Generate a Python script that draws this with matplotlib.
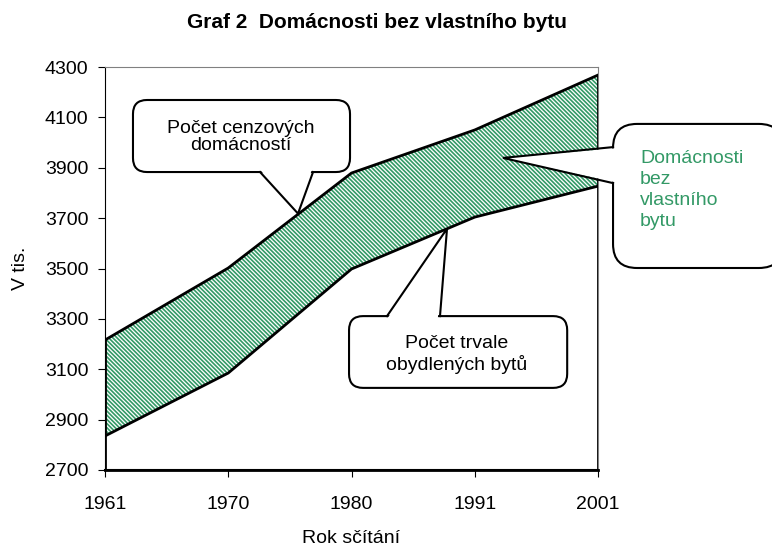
import numpy as np
import matplotlib
matplotlib.use("Agg")
import matplotlib.pyplot as plt
from matplotlib.patches import FancyBboxPatch, Polygon

plt.rcParams.update({"font.family": ["Liberation Sans", "DejaVu Sans"], "font.size": 14,
                     "hatch.linewidth": 1.2})

years = ["1961", "1970", "1980", "1991", "2001"]
households = [3216, 3502, 3879, 4050, 4268]   # Počet cenzových domácností
dwellings = [2835, 3085, 3498, 3704, 3827]    # Počet trvale obydlených bytů
yticks = list(range(2700, 4301, 200))
GREEN = "#339966"

fig = plt.figure(figsize=(7.72, 5.47), dpi=100)
ax = fig.add_axes([105/772, 77/547, 493/772, 403/547])
x = np.arange(len(years))

# lower area (white) and stacked difference (hatched)
ax.fill_between(x, 2700, dwellings, facecolor="white", edgecolor="none", zorder=1)
ax.fill_between(x, dwellings, households, facecolor="white", edgecolor=GREEN, hatch="\\\\\\\\\\\\\\\\",
                linewidth=0, zorder=1)
lw = 2.0
ax.plot(x, households, color="black", lw=lw, zorder=3)
ax.plot(x, dwellings, color="black", lw=lw, zorder=3)
ax.plot([0, 0], [2700, households[0]], color="black", lw=lw, zorder=3)
ax.plot([4, 4], [2700, households[-1]], color="black", lw=lw, zorder=3)
ax.plot([0, 4], [2700, 2700], color="black", lw=lw, zorder=3, clip_on=False)

ax.set_xlim(0, 4)
ax.set_ylim(2700, 4300)
ax.set_xticks(x)
ax.set_xticklabels(years)
ax.set_yticks(yticks)
for s in ["top", "right"]:
    ax.spines[s].set_color("#808080")
    ax.spines[s].set_linewidth(0.8)
ax.spines["left"].set_linewidth(0.8)
ax.spines["bottom"].set_linewidth(1.5)
ax.tick_params(axis="both", direction="out", length=5, width=0.8, colors="black", labelsize=14)
ax.tick_params(axis="y", pad=7)
ax.tick_params(axis="x", pad=14)
ax.set_xlabel("Rok sčítání", labelpad=12, fontsize=14)
ax.set_ylabel("V tis.", labelpad=11, fontsize=14)

fig.text(0.488, 0.958, "Graf 2  Domácnosti bez vlastního bytu", ha="center", va="center",
         fontsize=15, fontweight="bold")

# callouts (x in category units, y in thousands)
px_x = 4 / 493.0       # x units per pixel
px_y = 1600 / 403.0    # y units per pixel
aspect = px_y / px_x

def callout(x0, x1, y0, y1, base, tip, r=14):
    box = FancyBboxPatch((x0, y0), x1 - x0, y1 - y0,
                         boxstyle=f"round,pad=0,rounding_size={r*px_x}",
                         mutation_aspect=aspect, facecolor="white", edgecolor="black",
                         lw=1.5, zorder=5, clip_on=False)
    ax.add_patch(box)
    (bx0, by0), (bx1, by1) = base
    # white wedge covering the box border at its base
    cx, cy = (bx0 + bx1) / 2, (by0 + by1) / 2
    dx, dy = cx - tip[0], cy - tip[1]
    ext = (bx0 + dx * 0.08, by0 + dy * 0.08), (bx1 + dx * 0.08, by1 + dy * 0.08)
    ax.add_patch(Polygon([tip, ext[0], ext[1]], closed=True, facecolor="white",
                         edgecolor="none", zorder=6, clip_on=False))
    ax.plot([bx0, tip[0], bx1], [by0, tip[1], by1], color="black", lw=1.5, zorder=7,
            clip_on=False, solid_joinstyle="miter")

# Počet cenzových domácností
callout(0.227, 1.988, 3883, 4169, ((1.258, 3883), (1.688, 3883)), (1.566, 3718))
ax.text(1.10, 4022, "Počet cenzových\ndomácností", ha="center", va="center",
        fontsize=14, zorder=8, linespacing=1.05)
# Počet trvale obydlených bytů
callout(1.98, 3.75, 3026, 3311, ((2.288, 3311), (2.718, 3311)), (2.775, 3658))
ax.text(2.856, 3159, "Počet trvale\nobydlených bytů", ha="center", va="center",
        fontsize=14, zorder=8, linespacing=1.25)
# Domácnosti bez vlastního bytu
callout(4.122, 5.5, 3502, 4074, ((4.122, 3982), (4.122, 3839)), (3.229, 3939), r=24)
ax.text(4.34, 3812, "Domácnosti\nbez\nvlastního\nbytu", ha="left", va="center",
        fontsize=14, color=GREEN, zorder=8, linespacing=1.32, clip_on=False)

fig.savefig("out.png", dpi=100)
